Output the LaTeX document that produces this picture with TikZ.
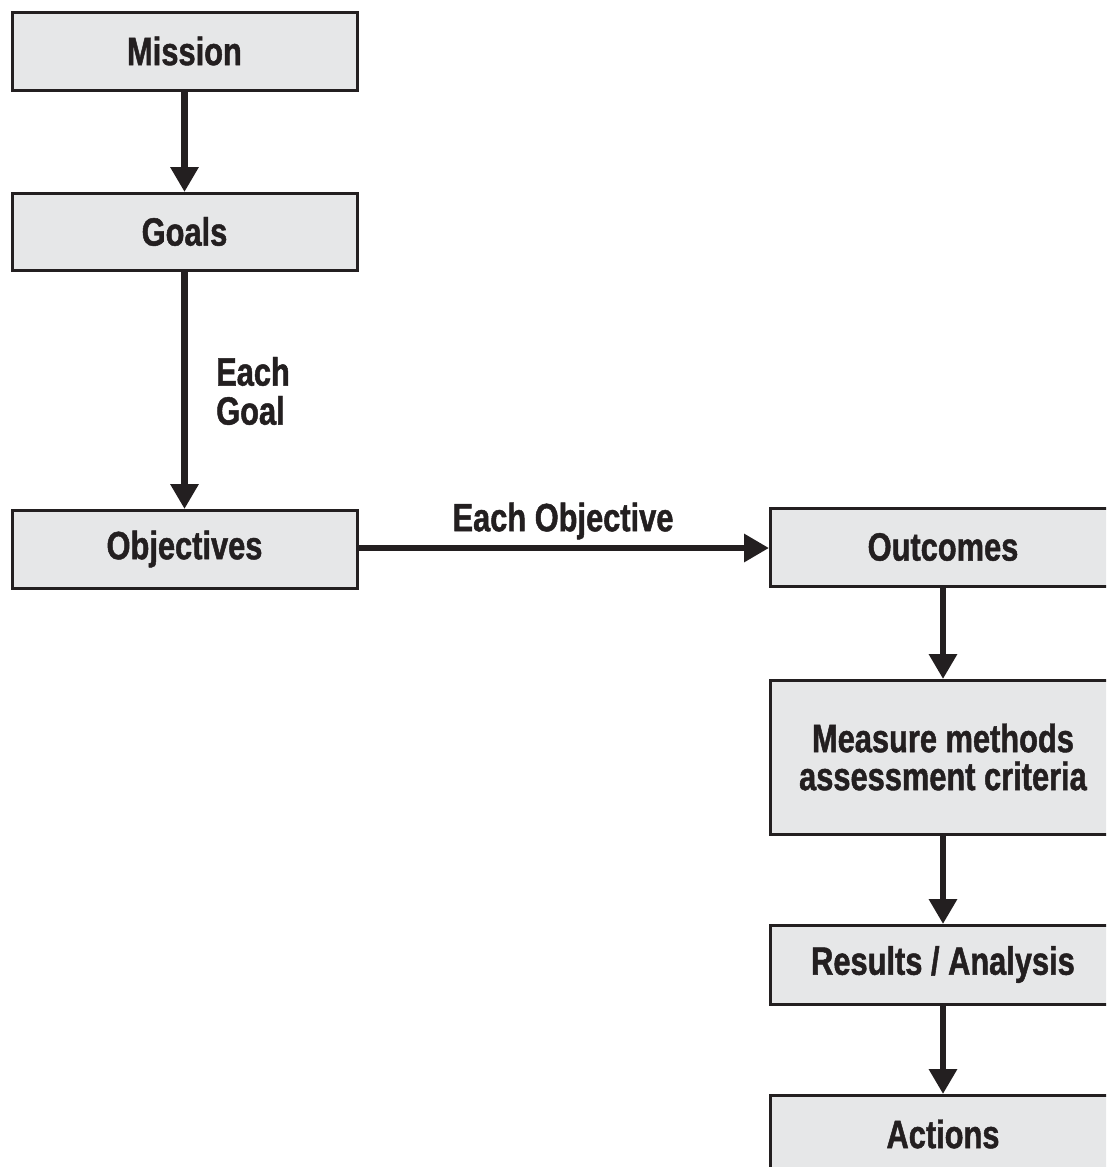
\documentclass[tikz,border=0pt]{standalone}
\usepackage{fontspec}
\setmainfont{Liberation Sans}[FakeStretch=0.78, BoldFeatures={FakeStretch=0.78,FakeBold=1.2}]
\usetikzlibrary{arrows.meta}
\definecolor{boxfill}{HTML}{E6E7E8}
\definecolor{ink}{HTML}{231F20}
\begin{document}
\begin{tikzpicture}[x=1pt,y=-1pt,
  box/.style={draw=ink, fill=boxfill, line width=3pt, font=\fontsize{39.5}{38}\selectfont\bfseries,
    text=ink, inner sep=0pt, align=center},
  arr/.style={draw=ink, line width=6.5pt, -{Triangle[width=27pt,length=25pt]}, shorten >=-0.5pt},
  lbl/.style={text=ink, font=\fontsize{39.5}{39}\selectfont\bfseries, inner sep=0pt}
]
\useasboundingbox (0,0) rectangle (1106,1167);
\clip (0,0) rectangle (1106,1167);
\node[box, minimum width=345pt, minimum height=78pt] (mission) at (184.5,51) {Mission};
\node[box, minimum width=345pt, minimum height=77pt] (goals) at (184.5,231.5) {Goals};
\node[box, minimum width=345pt, minimum height=78pt] (objectives) at (184.5,549) {Objectives};
\node[box, minimum width=346pt, minimum height=78pt] (outcomes) at (943,547) {Outcomes};
\node[box, minimum width=346pt, minimum height=154pt] (measure) at (943,757) {Measure methods\\assessment criteria};
\node[box, minimum width=346pt, minimum height=79pt] (results) at (943,964.5) {Results / Analysis};
\node[box, minimum width=346pt, minimum height=78pt] (actions) at (943,1134) {Actions};

\draw[arr] (mission) -- (goals);
\draw[arr] (goals) -- (objectives);
\coordinate (oy) at (0,548);
\draw[arr] (objectives.east |- oy) -- (outcomes.west |- oy);
\draw[arr] (outcomes) -- (measure);
\draw[arr] (measure) -- (results);
\draw[arr] (results) -- (actions);

\node[lbl, anchor=west, align=left] (eachgoal) at (216,391) {Each\\Goal};
\node[lbl] (eachobj) at (563,521) {Each Objective};
\end{tikzpicture}
\end{document}
